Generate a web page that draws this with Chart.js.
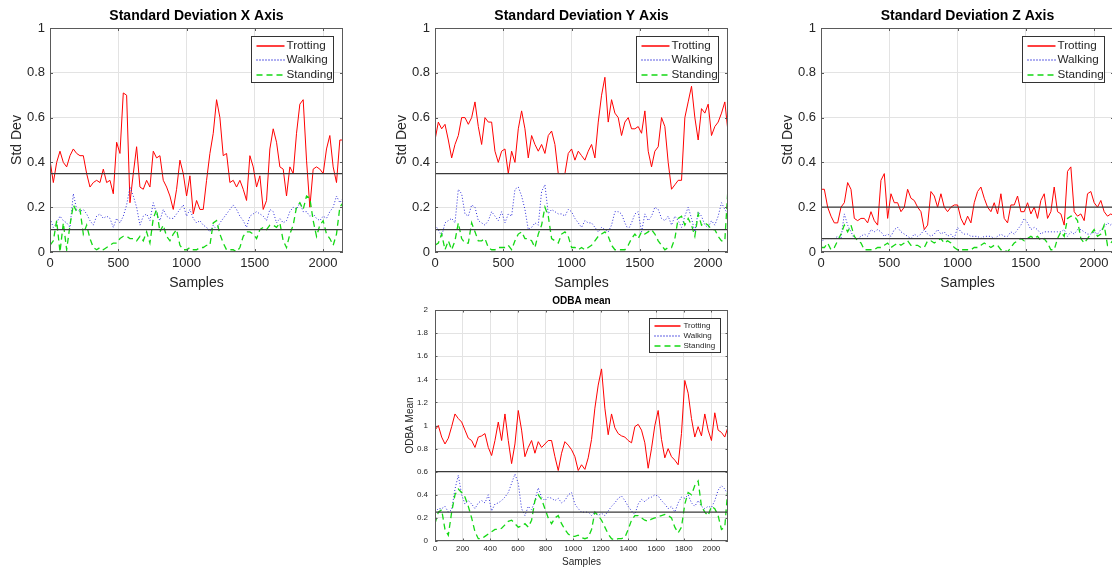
<!DOCTYPE html>
<html lang="en">
<head>
<meta charset="UTF-8">
<title>Standard Deviation / ODBA mean</title>
<script src="https://cdn.jsdelivr.net/npm/chart.js@4.4.0/dist/chart.umd.min.js"></script>
<style>
  html, body { margin: 0; padding: 0; background: #fff; overflow: hidden; width: 1112px; height: 567px; }
  canvas { position: absolute; }
</style>
</head>
<body>
<canvas id="chartX" width="353" height="295" style="left:0px;top:0px"></canvas>
<canvas id="chartY" width="353" height="295" style="left:385px;top:0px"></canvas>
<canvas id="chartZ" width="353" height="295" style="left:771px;top:0px"></canvas>
<canvas id="chartOdba" width="348" height="279" style="left:390px;top:290px"></canvas>

<script>
// ---- data (one value every ~24 samples) ----
const labels = ['Trotting', 'Walking', 'Standing'];

const stepTop = 24.4;     // samples between readings, std dev plots
const stepOdba = 24.1;    // samples between readings, ODBA plot
const maxTop = 2146;
const maxOdba = 2120;

const xTicksTop = [0, 500, 1000, 1500, 2000];
const xTicksOdba = [0, 200, 400, 600, 800, 1000, 1200, 1400, 1600, 1800, 2000];

const trotX = [0.41,0.31,0.40,0.45,0.40,0.38,0.43,0.46,0.44,0.43,
  0.43,0.35,0.29,0.31,0.32,0.31,0.37,0.31,0.32,0.26,
  0.49,0.44,0.71,0.70,0.22,0.35,0.47,0.29,0.28,0.32,
  0.29,0.45,0.42,0.43,0.32,0.29,0.25,0.19,0.28,0.41,
  0.35,0.25,0.34,0.17,0.23,0.19,0.19,0.32,0.44,0.53,
  0.68,0.60,0.43,0.44,0.31,0.32,0.29,0.32,0.28,0.23,
  0.43,0.38,0.29,0.34,0.19,0.23,0.46,0.55,0.49,0.38,
  0.37,0.25,0.38,0.35,0.53,0.66,0.68,0.41,0.20,0.37,
  0.38,0.37,0.35,0.46,0.52,0.38,0.31,0.50,0.50];
const walkX = [0.15,0.11,0.13,0.16,0.14,0.13,0.11,0.26,0.19,0.18,
  0.19,0.17,0.14,0.12,0.16,0.17,0.15,0.16,0.15,0.11,
  0.15,0.13,0.16,0.21,0.29,0.25,0.20,0.12,0.16,0.17,
  0.14,0.22,0.17,0.14,0.19,0.16,0.15,0.15,0.17,0.19,
  0.21,0.16,0.19,0.15,0.13,0.14,0.12,0.11,0.09,0.12,
  0.10,0.13,0.15,0.17,0.19,0.21,0.19,0.16,0.14,0.11,
  0.16,0.17,0.18,0.17,0.16,0.14,0.19,0.18,0.13,0.15,
  0.13,0.14,0.18,0.20,0.19,0.22,0.18,0.18,0.16,0.17,
  0.15,0.14,0.16,0.15,0.18,0.20,0.25,0.22,0.24];
const standX = [0.03,0.05,0.14,0.00,0.13,0.01,0.12,0.21,0.18,0.19,
  0.08,0.12,0.06,0.02,0.01,0.02,0.01,0.02,0.03,0.04,
  0.04,0.06,0.07,0.07,0.06,0.06,0.05,0.07,0.05,0.09,
  0.04,0.15,0.19,0.09,0.12,0.07,0.05,0.08,0.10,0.03,
  0.01,0.01,0.02,0.01,0.01,0.02,0.02,0.03,0.03,0.13,
  0.14,0.08,0.04,0.01,0.01,0.01,0.00,0.02,0.07,0.09,
  0.09,0.08,0.06,0.10,0.11,0.10,0.12,0.12,0.11,0.13,
  0.05,0.02,0.08,0.12,0.20,0.22,0.19,0.25,0.24,0.14,
  0.07,0.12,0.14,0.08,0.06,0.03,0.08,0.20,0.22];
const limitsX = [0.35, 0.1];

const trotY = [0.50,0.58,0.55,0.57,0.50,0.42,0.48,0.52,0.60,0.60,
  0.57,0.60,0.67,0.56,0.48,0.60,0.58,0.58,0.45,0.40,
  0.45,0.46,0.35,0.45,0.40,0.55,0.63,0.55,0.42,0.52,
  0.48,0.45,0.48,0.44,0.52,0.54,0.48,0.35,0.35,0.35,
  0.44,0.46,0.41,0.45,0.43,0.41,0.45,0.48,0.42,0.58,
  0.70,0.78,0.58,0.68,0.62,0.60,0.52,0.58,0.60,0.55,
  0.55,0.56,0.53,0.63,0.45,0.38,0.45,0.47,0.60,0.56,
  0.40,0.28,0.30,0.32,0.32,0.60,0.67,0.74,0.60,0.50,
  0.64,0.62,0.66,0.52,0.56,0.58,0.62,0.67,0.53];
const walkY = [0.12,0.10,0.07,0.13,0.14,0.15,0.13,0.28,0.26,0.17,
  0.16,0.21,0.20,0.14,0.13,0.12,0.14,0.18,0.16,0.14,
  0.18,0.13,0.17,0.16,0.28,0.29,0.25,0.19,0.10,0.11,
  0.13,0.12,0.27,0.30,0.17,0.19,0.18,0.17,0.17,0.16,
  0.19,0.18,0.15,0.13,0.11,0.14,0.13,0.13,0.11,0.09,
  0.11,0.10,0.09,0.12,0.18,0.18,0.17,0.13,0.10,0.13,
  0.17,0.18,0.09,0.17,0.14,0.16,0.20,0.19,0.15,0.14,
  0.16,0.12,0.16,0.14,0.11,0.16,0.20,0.15,0.09,0.18,
  0.16,0.12,0.11,0.14,0.12,0.16,0.22,0.19,0.17];
const standY = [0.03,0.04,0.08,0.01,0.05,0.01,0.05,0.13,0.06,0.04,
  0.04,0.13,0.09,0.05,0.05,0.06,0.02,0.01,0.01,0.02,
  0.02,0.02,0.03,0.01,0.05,0.08,0.09,0.06,0.06,0.05,
  0.02,0.08,0.12,0.20,0.16,0.06,0.05,0.04,0.08,0.09,
  0.07,0.02,0.02,0.01,0.02,0.01,0.02,0.03,0.05,0.07,
  0.08,0.09,0.07,0.03,0.01,0.01,0.01,0.01,0.03,0.06,
  0.08,0.06,0.09,0.08,0.09,0.10,0.08,0.05,0.03,0.01,
  0.02,0.02,0.06,0.15,0.16,0.12,0.15,0.12,0.07,0.17,
  0.12,0.13,0.12,0.10,0.10,0.07,0.05,0.05,0.30];
const limitsY = [0.35, 0.1];

const trotZ = [0.28,0.28,0.20,0.16,0.13,0.13,0.20,0.22,0.31,0.28,
  0.15,0.14,0.15,0.15,0.13,0.18,0.14,0.12,0.32,0.35,
  0.15,0.26,0.22,0.22,0.18,0.20,0.28,0.24,0.23,0.20,
  0.18,0.10,0.12,0.27,0.25,0.20,0.26,0.20,0.18,0.20,
  0.21,0.21,0.15,0.12,0.16,0.13,0.22,0.27,0.29,0.24,
  0.20,0.18,0.22,0.17,0.26,0.15,0.13,0.21,0.21,0.25,
  0.18,0.18,0.22,0.17,0.20,0.15,0.23,0.26,0.15,0.18,
  0.29,0.18,0.17,0.12,0.36,0.38,0.18,0.16,0.17,0.14,
  0.26,0.27,0.22,0.20,0.23,0.18,0.16,0.17,0.16];
const walkZ = [0.04,0.06,0.06,0.06,0.06,0.07,0.06,0.17,0.12,0.09,
  0.06,0.06,0.07,0.08,0.07,0.10,0.09,0.10,0.09,0.07,
  0.08,0.07,0.10,0.11,0.09,0.08,0.07,0.06,0.08,0.07,
  0.08,0.10,0.08,0.07,0.08,0.10,0.08,0.09,0.07,0.08,
  0.06,0.11,0.09,0.08,0.08,0.07,0.07,0.07,0.06,0.07,
  0.07,0.07,0.06,0.07,0.08,0.07,0.07,0.09,0.08,0.10,
  0.12,0.15,0.13,0.10,0.11,0.10,0.08,0.09,0.09,0.09,
  0.09,0.09,0.09,0.10,0.07,0.09,0.08,0.10,0.10,0.09,
  0.08,0.08,0.09,0.08,0.10,0.11,0.13,0.12,0.14];
const standZ = [0.02,0.02,0.04,0.01,0.02,0.05,0.08,0.12,0.09,0.12,
  0.07,0.05,0.04,0.01,0.01,0.01,0.01,0.02,0.02,0.03,
  0.04,0.02,0.03,0.04,0.03,0.04,0.05,0.03,0.03,0.03,
  0.02,0.02,0.05,0.05,0.04,0.05,0.06,0.04,0.05,0.04,
  0.02,0.01,0.01,0.01,0.01,0.01,0.02,0.02,0.03,0.04,
  0.03,0.02,0.03,0.03,0.01,0.01,0.00,0.02,0.04,0.05,
  0.06,0.05,0.06,0.07,0.06,0.07,0.05,0.06,0.04,0.01,
  0.01,0.06,0.09,0.07,0.15,0.16,0.16,0.14,0.06,0.04,
  0.06,0.08,0.10,0.07,0.08,0.12,0.03,0.04,0.06];
const limitsZ = [0.2, 0.06];

const trotOdba = [0.96,1.00,0.90,0.84,0.89,0.99,1.10,1.06,1.03,0.96,
  0.89,0.87,0.81,0.90,0.91,0.93,0.81,0.74,0.87,1.03,
  0.87,1.10,0.87,0.67,0.84,1.13,0.96,0.73,0.81,0.87,
  0.76,0.86,0.81,0.84,0.87,0.87,0.73,0.61,0.76,0.86,
  0.83,0.79,0.73,0.61,0.66,0.62,0.72,0.88,1.15,1.35,
  1.49,1.15,0.92,1.10,0.98,0.93,0.91,0.90,0.87,0.85,
  0.99,1.01,0.96,0.85,0.63,0.80,1.00,1.13,0.88,0.72,
  0.80,0.73,0.70,0.66,0.93,1.39,1.28,1.06,0.90,0.99,
  0.91,1.10,0.96,0.87,1.11,0.96,0.94,0.90,0.99];
const walkOdba = [0.25,0.28,0.28,0.30,0.25,0.27,0.45,0.57,0.40,0.32,
  0.35,0.32,0.28,0.33,0.35,0.33,0.40,0.26,0.32,0.33,
  0.35,0.38,0.42,0.50,0.58,0.50,0.28,0.22,0.30,0.27,
  0.35,0.46,0.38,0.35,0.38,0.37,0.35,0.37,0.33,0.35,
  0.40,0.42,0.32,0.28,0.25,0.25,0.25,0.22,0.25,0.22,
  0.24,0.22,0.26,0.30,0.33,0.37,0.39,0.35,0.30,0.26,
  0.23,0.32,0.36,0.34,0.37,0.38,0.40,0.39,0.35,0.32,
  0.28,0.30,0.25,0.33,0.38,0.37,0.40,0.33,0.30,0.35,
  0.30,0.28,0.30,0.29,0.35,0.44,0.48,0.45,0.40];
const standOdba = [0.15,0.25,0.27,0.10,0.05,0.25,0.40,0.45,0.42,0.38,
  0.30,0.20,0.08,0.02,0.02,0.04,0.06,0.08,0.10,0.10,
  0.11,0.14,0.17,0.18,0.15,0.12,0.13,0.15,0.12,0.18,
  0.35,0.40,0.36,0.28,0.20,0.15,0.20,0.22,0.15,0.10,
  0.06,0.04,0.04,0.05,0.03,0.02,0.03,0.10,0.25,0.22,
  0.18,0.12,0.06,0.02,0.01,0.02,0.02,0.03,0.10,0.18,
  0.22,0.22,0.20,0.18,0.17,0.19,0.20,0.21,0.22,0.23,
  0.22,0.20,0.12,0.07,0.12,0.32,0.42,0.40,0.48,0.52,
  0.30,0.25,0.22,0.30,0.28,0.22,0.10,0.12,0.48];
const limitsOdba = [0.6, 0.25];

// ---- styling ----
const FONT = '"Liberation Sans", Arial, Helvetica, sans-serif';
const TEXT = '#262626';
const GRID = '#e3e3e3';
const styles = [
  { color: '#ff0000', dash: [], width: 1 },
  { color: '#2b2bd9', dash: [1, 2], width: 1 },
  { color: '#14d814', dash: [6, 4], width: 1.3 }
];

function points(values, step) {
  return values.map((v, i) => ({ x: i * step, y: v }));
}

// axes box, inward ticks and the boxed legend
const matlabFrame = {
  id: 'matlabFrame',
  afterDatasetsDraw(chart, args, o) {
    const { ctx, chartArea: a, scales } = chart;
    ctx.save();
    ctx.setLineDash([]);
    ctx.strokeStyle = '#5a5a5a';
    ctx.lineWidth = 1;
    ctx.beginPath();
    scales.x.ticks.forEach(t => {
      const px = Math.round(scales.x.getPixelForValue(t.value)) + 0.5;
      ctx.moveTo(px, a.bottom); ctx.lineTo(px, a.bottom - o.tick);
      ctx.moveTo(px, a.top); ctx.lineTo(px, a.top + o.tick);
    });
    scales.y.ticks.forEach(t => {
      const py = Math.round(scales.y.getPixelForValue(t.value)) + 0.5;
      ctx.moveTo(a.left, py); ctx.lineTo(a.left + o.tick, py);
      ctx.moveTo(a.right, py); ctx.lineTo(a.right - o.tick, py);
    });
    ctx.stroke();
    ctx.strokeRect(Math.round(a.left) + 0.5, Math.round(a.top) + 0.5,
      Math.round(a.width) - 1, Math.round(a.height) - 1);

    // legend
    const L = o.legend;
    const bx = Math.round(a.right - L.right - L.w) + 0.5;
    const by = Math.round(a.top + L.top) + 0.5;
    ctx.fillStyle = '#fff';
    ctx.fillRect(bx, by, L.w, L.h);
    ctx.strokeStyle = '#333';
    ctx.strokeRect(bx, by, L.w, L.h);
    ctx.font = L.font + 'px ' + FONT;
    ctx.textBaseline = 'middle';
    ctx.textAlign = 'left';
    labels.forEach((lab, i) => {
      const y = Math.round(by + L.rowTop + i * L.rowGap);
      ctx.strokeStyle = styles[i].color;
      ctx.lineWidth = 1.5;
      ctx.setLineDash(styles[i].dash);
      ctx.beginPath();
      ctx.moveTo(bx + L.x0, y);
      ctx.lineTo(bx + L.x1, y);
      ctx.stroke();
      ctx.fillStyle = TEXT;
      ctx.fillText(lab, bx + L.textX, y);
    });
    ctx.restore();
  }
};

function makeChart(id, cfg) {
  const datasets = [];
  cfg.series.forEach((vals, i) => {
    datasets.push({
      label: labels[i],
      data: points(vals, cfg.step),
      borderColor: styles[i].color,
      borderDash: styles[i].dash,
      borderWidth: styles[i].width,
      pointRadius: 0,
      tension: 0,
      order: 3 - i
    });
  });
  cfg.limits.forEach(v => {
    datasets.push({
      label: 'limit',
      data: [{ x: 0, y: v }, { x: cfg.xMax, y: v }],
      borderColor: '#3a3a3a',
      borderWidth: 1.2,
      pointRadius: 0,
      order: 0
    });
  });

  return new Chart(document.getElementById(id), {
    type: 'line',
    data: { datasets },
    plugins: [matlabFrame],
    options: {
      responsive: false,
      animation: false,
      events: [],
      layout: { autoPadding: false, padding: { left: 0, right: cfg.padRight, top: 0, bottom: 0 } },
      plugins: {
        legend: { display: false },
        tooltip: { enabled: false },
        title: {
          display: true,
          text: cfg.title,
          fullSize: false,
          color: '#000',
          font: { family: FONT, size: cfg.titleSize, weight: 'bold', lineHeight: 1.2 },
          padding: cfg.titlePad
        },
        matlabFrame: { tick: cfg.tick, legend: cfg.legend }
      },
      scales: {
        x: {
          type: 'linear',
          min: 0,
          max: cfg.xMax,
          border: { display: false },
          grid: { color: GRID, drawTicks: false },
          afterBuildTicks: s => { s.ticks = cfg.xTicks.map(v => ({ value: v })); },
          ticks: {
            autoSkip: false,
            maxRotation: 0,
            padding: cfg.xTickPad,
            color: TEXT,
            font: { family: FONT, size: cfg.tickSize },
            callback: v => String(v)
          },
          title: {
            display: true,
            text: 'Samples',
            color: TEXT,
            font: { family: FONT, size: cfg.labelSize, lineHeight: 1.2 },
            padding: { top: 0, bottom: cfg.xTitlePad }
          },
          afterFit: s => { s.height = cfg.xHeight; }
        },
        y: {
          type: 'linear',
          min: 0,
          max: cfg.yMax,
          border: { display: false },
          grid: { color: GRID, drawTicks: false },
          ticks: {
            stepSize: 0.2,
            padding: cfg.yTickPad,
            color: TEXT,
            font: { family: FONT, size: cfg.tickSize },
            callback: v => String(+v.toFixed(2))
          },
          title: {
            display: true,
            text: cfg.yLabel,
            color: TEXT,
            font: { family: FONT, size: cfg.labelSize, lineHeight: 1.2 },
            padding: { top: cfg.yTitlePad, bottom: 0 }
          },
          afterFit: s => { s.width = cfg.yWidth; }
        }
      }
    }
  });
}

const topLegend = { w: 82, h: 46, right: 10, top: 8, rowTop: 9, rowGap: 14.5, x0: 5, x1: 33, textX: 35, font: 11.7 };
const topBase = {
  step: stepTop, xMax: maxTop, xTicks: xTicksTop, yMax: 1, yLabel: 'Std Dev',
  padRight: 10, titleSize: 14, titlePad: { top: 7.6, bottom: 3.6 },
  tickSize: 13, labelSize: 14, xTickPad: 4, yTickPad: 5,
  xTitlePad: 3.6, yTitlePad: 8.5, xHeight: 43, yWidth: 50,
  tick: 3, legend: topLegend
};

makeChart('chartX', Object.assign({}, topBase, {
  title: 'Standard Deviation X Axis', series: [trotX, walkX, standX], limits: limitsX
}));
makeChart('chartY', Object.assign({}, topBase, {
  title: 'Standard Deviation Y Axis', series: [trotY, walkY, standY], limits: limitsY
}));
makeChart('chartZ', Object.assign({}, topBase, {
  title: 'Standard Deviation Z Axis', series: [trotZ, walkZ, standZ], limits: limitsZ
}));

makeChart('chartOdba', {
  step: stepOdba, xMax: maxOdba, xTicks: xTicksOdba, yMax: 2, yLabel: 'ODBA Mean',
  padRight: 10, titleSize: 10, titlePad: { top: 5, bottom: 3 },
  tickSize: 8, labelSize: 10, xTickPad: 3, yTickPad: 7,
  xTitlePad: 0.3, yTitlePad: 14, xHeight: 28, yWidth: 45,
  tick: 2.5,
  title: 'ODBA mean', series: [trotOdba, walkOdba, standOdba], limits: limitsOdba,
  legend: { w: 71, h: 34, right: 8, top: 8, rowTop: 7, rowGap: 10, x0: 5, x1: 31, textX: 34, font: 8 }
});
</script>
</body>
</html>
